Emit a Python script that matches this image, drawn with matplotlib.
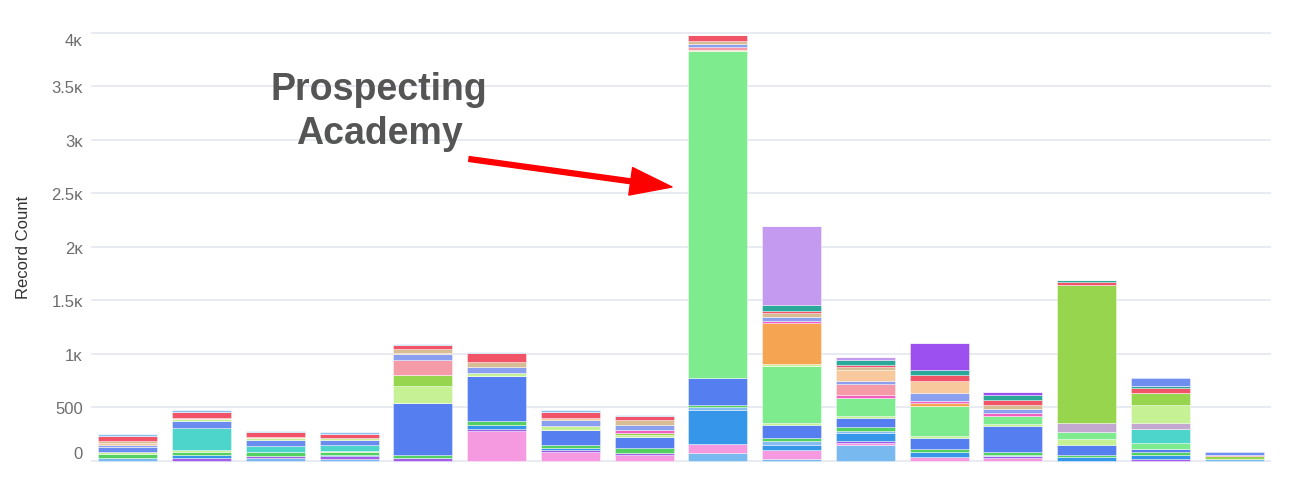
import matplotlib.pyplot as plt
import numpy as np

# stacked series, bottom -> top, one value per bar (16 bars)
sky = [22, 0, 25, 20, 0, 0, 0, 0, 72, 15, 150, 0, 0, 0, 0, 15]
pink = [0, 0, 0, 0, 0, 281, 84, 53, 84, 84, 15, 31, 25, 0, 0, 0]
violet = [8, 22, 22, 22, 22, 20, 20, 22, 0, 0, 20, 0, 15, 0, 15, 0]
azure = [0, 31, 0, 11, 0, 31, 11, 0, 321, 50, 78, 47, 0, 31, 40, 0]
sky2 = [0, 0, 0, 0, 0, 0, 0, 0, 22, 37, 17, 0, 16, 0, 0, 0]
green = [37, 31, 31, 25, 31, 37, 31, 40, 22, 22, 40, 31, 22, 25, 25, 0]
royal = [0, 0, 0, 0, 490, 421, 140, 109, 249, 130, 84, 103, 250, 94, 31, 0]
lime_a = [15, 15, 0, 15, 0, 0, 0, 0, 0, 15, 15, 22, 19, 56, 0, 0]
mint = [0, 0, 0, 0, 0, 0, 0, 0, 3060, 534, 172, 281, 75, 62, 52, 0]
teal = [0, 210, 56, 56, 0, 0, 0, 0, 0, 0, 0, 0, 0, 0, 131, 0]
royal_b = [47, 62, 56, 47, 0, 0, 0, 0, 0, 0, 0, 0, 0, 0, 0, 0]
mauve = [0, 0, 0, 0, 0, 0, 0, 0, 0, 0, 0, 0, 0, 84, 62, 0]
lime_b = [0, 19, 22, 15, 156, 31, 37, 20, 15, 19, 0, 0, 0, 0, 165, 0]
olive = [0, 0, 0, 0, 103, 0, 0, 17, 0, 0, 0, 0, 0, 1289, 115, 25]
orange = [0, 0, 0, 0, 0, 0, 0, 0, 0, 383, 0, 22, 0, 0, 0, 0]
magenta = [0, 0, 0, 0, 0, 0, 0, 25, 0, 22, 22, 25, 25, 0, 0, 0]
salmon = [0, 0, 0, 0, 140, 0, 0, 0, 20, 0, 103, 0, 0, 0, 0, 0]
periwinkle = [15, 0, 0, 0, 53, 53, 62, 47, 30, 37, 31, 72, 37, 0, 0, 0]
peach = [22, 12, 10, 0, 15, 0, 19, 0, 0, 0, 103, 115, 0, 0, 0, 0]
tan = [15, 0, 0, 0, 31, 50, 0, 47, 30, 34, 22, 0, 40, 0, 0, 0]
red = [53, 56, 47, 40, 40, 85, 53, 37, 55, 20, 22, 53, 40, 28, 40, 15]
darkteal = [0, 0, 0, 0, 0, 0, 0, 0, 0, 50, 50, 47, 50, 25, 22, 0]
lavender = [0, 0, 0, 0, 0, 0, 0, 0, 0, 740, 22, 0, 0, 0, 0, 0]
purple = [0, 0, 0, 0, 0, 0, 0, 0, 0, 0, 0, 256, 25, 0, 0, 0]
cap_sky = [15, 19, 12, 22, 10, 10, 15, 10, 0, 0, 0, 0, 0, 0, 0, 0]
cap_royal = [0, 0, 0, 0, 0, 0, 0, 0, 0, 0, 0, 0, 0, 0, 78, 31]

series = [
    (sky, '#78b9ef'), (pink, '#f59ae0'), (violet, '#a35ee8'), (azure, '#3596ea'),
    (sky2, '#86bdf2'), (green, '#52d062'), (royal, '#557ef0'), (lime_a, '#c7f195'),
    (mint, '#7eeb8f'), (teal, '#4dd4cb'), (royal_b, '#6a8cf0'), (mauve, '#c3a9cf'),
    (lime_b, '#c7f195'), (olive, '#97d54e'), (orange, '#f5a452'), (magenta, '#f260c0'),
    (salmon, '#f59aa7'), (periwinkle, '#8a9ff0'), (peach, '#f8c99c'), (tan, '#d7bd94'),
    (red, '#f25467'), (darkteal, '#2aa99b'), (lavender, '#c49af1'), (purple, '#9c50ef'),
    (cap_sky, '#8dc0f0'), (cap_royal, '#6f8ff0'),
]

y_ticks = [0, 500, 1000, 1500, 2000, 2500, 3000, 3500, 4000]
y_tick_labels = ['0', '500', '1\u1d0b', '1.5\u1d0b', '2\u1d0b', '2.5\u1d0b', '3\u1d0b', '3.5\u1d0b', '4\u1d0b']

plt.rcParams['font.family'] = ['Liberation Sans', 'DejaVu Sans']

W, H = 1292, 485
fig = plt.figure(figsize=(W / 100, H / 100), dpi=100)
ax_left, ax_right = 91, 1271
ax_top, ax_bottom = 33.1, 462.6
ax = fig.add_axes([ax_left / W, 1 - ax_bottom / H, (ax_right - ax_left) / W, (ax_bottom - ax_top) / H])

x = np.arange(len(sky))
bottom = np.zeros(len(x))
for vals, color in series:
    vals = np.array(vals, dtype=float)
    ax.bar(x, vals, bottom=bottom, width=0.8, color=color,
           edgecolor=(1, 1, 1, 0.55), linewidth=0.5, zorder=3)
    bottom += vals

ax.set_xlim(-0.5, len(x) - 0.5)
ax.set_ylim(-8, 4008)
ax.set_yticks(y_ticks)
ax.set_yticklabels(y_tick_labels, fontsize=12, color='#6e6e6e')
ax.set_xticks([])
ax.tick_params(axis='y', length=0, pad=6)
for s in ax.spines.values():
    s.set_visible(False)
ax.yaxis.grid(True, color='#e6ebf1', linewidth=1.3, zorder=0)
ax.set_axisbelow(True)

labels = ax.get_yticklabels()
labels[0].set_verticalalignment('bottom')
labels[-1].set_verticalalignment('top')

ax.set_ylabel('Record Count', fontsize=12, color='#333333')
ax.yaxis.set_label_coords((31 - ax_left) / (ax_right - ax_left), 0.5)

fig.text(379 / W, 1 - 112 / H, 'Prospecting\nAcademy', ha='center', va='center',
         fontsize=27, fontweight='bold', color='#555555', linespacing=1.25)
ax.annotate('', xy=(672 / W, 1 - 188 / H), xycoords='figure fraction',
            xytext=(469 / W, 1 - 160 / H), textcoords='figure fraction',
            arrowprops=dict(facecolor='#ff0000', edgecolor='#ff0000', width=3.5,
                            headwidth=20, headlength=30, shrink=0))

fig.savefig('out.png', dpi=100)
